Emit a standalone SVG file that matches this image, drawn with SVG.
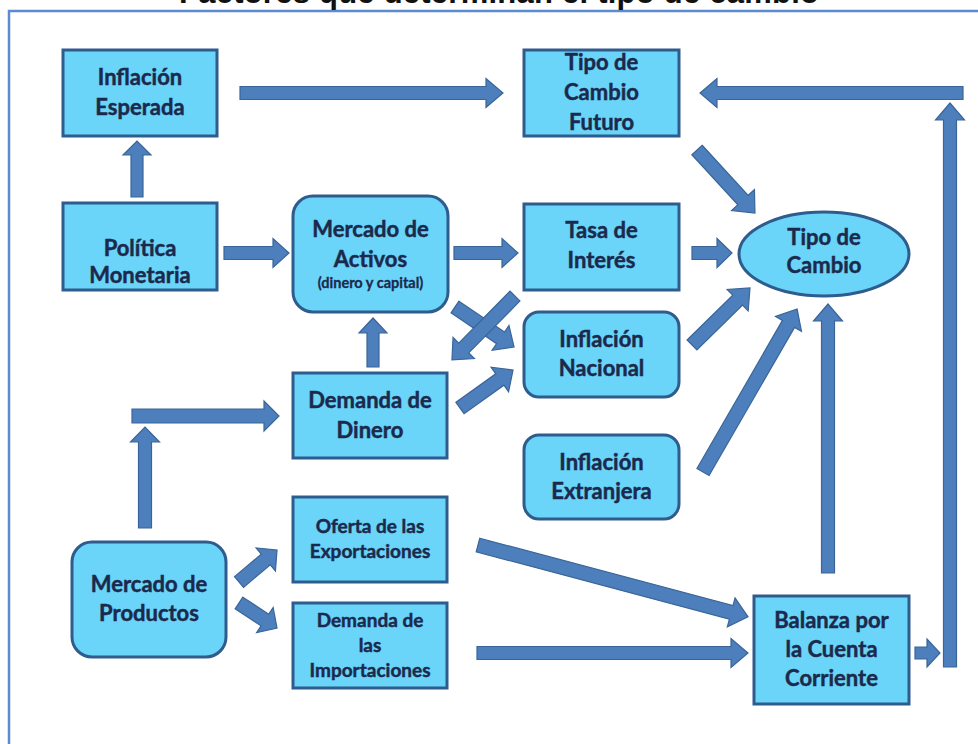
<svg xmlns="http://www.w3.org/2000/svg" width="978" height="744" viewBox="0 0 978 744">
<style>
.box{fill:#6AD4F9;stroke:#2E5C8C;stroke-width:3}
.t{font-family:Lato,"Open Sans","Liberation Sans",sans-serif;font-weight:bold;font-size:22px;fill:#1B2A4C;stroke:#1B2A4C;stroke-width:0.45;text-anchor:middle}
.s{font-size:19px}
.xs{font-size:14.5px;stroke-width:0.3}
.arr polygon{fill:#4C7FBC;stroke:#3A6598;stroke-width:1.2}
</style>
<rect x="9" y="11" width="975" height="740" fill="#fff" stroke="#5B8BD0" stroke-width="2.5"/>
<text x="499" y="3" textLength="640" style="font-family:'Liberation Sans',Arial,sans-serif;font-weight:bold;font-size:31px;fill:#111;text-anchor:middle">Factores que determinan el tipo de cambio</text>

<g id="connectors" class="arr">
<polygon transform="translate(240,93)" points="0,-6.5 246,-6.5 246,-14.5 263,0 246,14.5 246,6.5 0,6.5"/>
<polygon transform="translate(137,197) rotate(-90)" points="0,-6 42,-6 42,-14 56,0 42,14 42,6 0,6"/>
<polygon transform="translate(950,667) rotate(-90)" points="0,-6.5 547,-6.5 547,-14.5 564,0 547,14.5 547,6.5 0,6.5"/>
<polygon transform="translate(963,93) rotate(180)" points="0,-6.5 246,-6.5 246,-14.5 263,0 246,14.5 246,6.5 0,6.5"/>
<polygon transform="translate(915,653)" points="0,-6 12,-6 12,-14 25,0 12,14 12,6 0,6"/>
<polygon transform="translate(697,150) rotate(47.4)" points="0,-7 68,-7 68,-15.5 85.6,0 68,15.5 68,7 0,7"/>
<polygon transform="translate(692,253)" points="0,-6.5 25,-6.5 25,-14.5 40,0 25,14.5 25,6.5 0,6.5"/>
<polygon transform="translate(692,345) rotate(-44.5)" points="0,-7 64,-7 64,-15 81.3,0 64,15 64,7 0,7"/>
<polygon transform="translate(703,472) rotate(-60)" points="0,-7 171,-7 171,-15 188.2,0 171,15 171,7 0,7"/>
<polygon transform="translate(828,573) rotate(-90)" points="0,-6.5 252,-6.5 252,-14.5 269,0 252,14.5 252,6.5 0,6.5"/>
<polygon transform="translate(224,253)" points="0,-6.5 49,-6.5 49,-14.5 65,0 49,14.5 49,6.5 0,6.5"/>
<polygon transform="translate(454,253)" points="0,-6.5 48,-6.5 48,-14.5 64,0 48,14.5 48,6.5 0,6.5"/>
<polygon transform="translate(455,307) rotate(34.1)" points="0,-7 55,-7 55,-15 71.3,0 55,15 55,7 0,7"/>
<polygon transform="translate(515,296) rotate(134.6)" points="0,-7 73,-7 73,-15 89.8,0 73,15 73,7 0,7"/>
<polygon transform="translate(373,367) rotate(-90)" points="0,-6 34,-6 34,-14 49,0 34,14 34,6 0,6"/>
<polygon transform="translate(460,408) rotate(-35.6)" points="0,-7 49,-7 49,-15 65.2,0 49,15 49,7 0,7"/>
<polygon transform="translate(145,528) rotate(-90)" points="0,-6.5 86,-6.5 86,-14.5 101,0 86,14.5 86,6.5 0,6.5"/>
<polygon transform="translate(132,416)" points="0,-7 132,-7 132,-15 147,0 132,15 132,7 0,7"/>
<polygon transform="translate(239,582) rotate(-40.1)" points="0,-7 35,-7 35,-15 49.7,0 35,15 35,7 0,7"/>
<polygon transform="translate(239,603) rotate(33.3)" points="0,-7 31,-7 31,-15 45.5,0 31,15 31,7 0,7"/>
<polygon transform="translate(478,545) rotate(14.9)" points="0,-7 262,-7 262,-15 279.4,0 262,15 262,7 0,7"/>
<polygon transform="translate(477,653)" points="0,-6.5 254,-6.5 254,-14.5 271,0 254,14.5 254,6.5 0,6.5"/>
</g>

<g id="inflacion-esperada"><rect class="box" x="63" y="50" width="154" height="86"/>
<text class="t" x="140" y="85">Inflación</text><text class="t" x="140" y="115">Esperada</text></g>

<g id="tipo-cambio-futuro"><rect class="box" x="524" y="50" width="155" height="86"/>
<text class="t" x="601.5" y="70">Tipo de</text><text class="t" x="601.5" y="100">Cambio</text><text class="t" x="601.5" y="130">Futuro</text></g>

<g id="politica-monetaria"><rect class="box" x="63" y="203" width="154" height="87"/>
<text class="t" x="140" y="256">Política</text><text class="t" x="140" y="283">Monetaria</text></g>

<g id="mercado-activos"><rect class="box" x="293" y="196" width="155" height="116" rx="20"/>
<text class="t" x="370.5" y="237">Mercado de</text><text class="t" x="370.5" y="267">Activos</text>
<text class="t xs" x="370.5" y="288">(dinero y capital)</text></g>

<g id="tasa-interes"><rect class="box" x="524" y="204" width="155" height="86"/>
<text class="t" x="601.5" y="238">Tasa de</text><text class="t" x="601.5" y="268">Interés</text></g>

<g id="tipo-cambio"><ellipse class="box" cx="824" cy="254" rx="85" ry="42"/>
<text class="t" x="824" y="245">Tipo de</text><text class="t" x="824" y="273">Cambio</text></g>

<g id="inflacion-nacional"><rect class="box" x="524" y="312" width="155" height="85" rx="15"/>
<text class="t" x="601.5" y="347">Inflación</text><text class="t" x="601.5" y="376">Nacional</text></g>

<g id="demanda-dinero"><rect class="box" x="293" y="373" width="154" height="85"/>
<text class="t" x="370" y="408">Demanda de</text><text class="t" x="370" y="438">Dinero</text></g>

<g id="inflacion-extranjera"><rect class="box" x="524" y="435" width="155" height="84" rx="15"/>
<text class="t" x="601.5" y="470">Inflación</text><text class="t" x="601.5" y="499">Extranjera</text></g>

<g id="oferta-exportaciones"><rect class="box" x="293" y="497" width="154" height="85"/>
<text class="t s" x="370" y="533">Oferta de las</text><text class="t s" x="370" y="558">Exportaciones</text></g>

<g id="demanda-importaciones"><rect class="box" x="293" y="603" width="154" height="85"/>
<text class="t s" x="370" y="627">Demanda de</text><text class="t s" x="370" y="652">las</text><text class="t s" x="370" y="677">Importaciones</text></g>

<g id="mercado-productos"><rect class="box" x="72" y="542" width="154" height="115" rx="20"/>
<text class="t" x="149" y="592">Mercado de</text><text class="t" x="149" y="621">Productos</text></g>

<g id="balanza"><rect class="box" x="754" y="596" width="155" height="108"/>
<text class="t" x="831.5" y="628">Balanza por</text><text class="t" x="831.5" y="657">la Cuenta</text><text class="t" x="831.5" y="686">Corriente</text></g>
</svg>
